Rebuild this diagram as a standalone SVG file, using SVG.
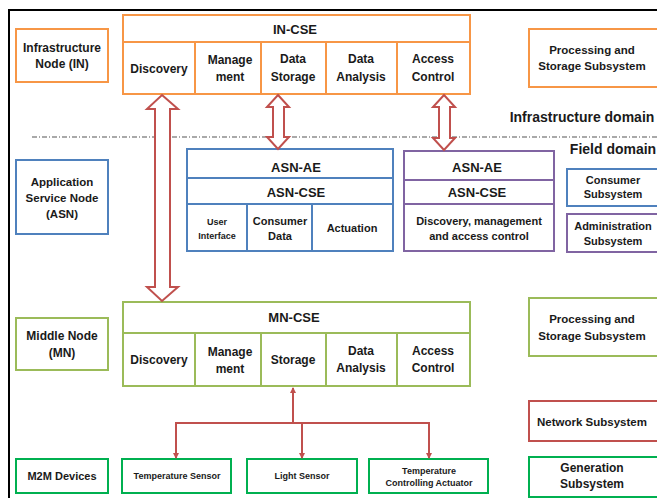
<svg xmlns="http://www.w3.org/2000/svg" width="657" height="498" viewBox="0 0 657 498">
<defs>
<style>
text{font-family:"Liberation Sans",Arial,sans-serif;font-weight:bold;fill:#1a1a1a;text-anchor:middle}
.box{fill:#fff;stroke-width:2}
.or{stroke:#F79646}
.bl{stroke:#4F81BD}
.pu{stroke:#8064A2}
.lg{stroke:#9BBB59}
.rd{stroke:#C0504D}
.gr{stroke:#00B050}
.ln{fill:none;stroke-width:2}
.t12{font-size:12px}
.t11{font-size:11px}
.t115{font-size:11.5px}
.t13{font-size:13px}
.t9{font-size:9px}
.t14{font-size:14px}
.big{fill:#fff;stroke:#C0504D;stroke-width:2;stroke-linejoin:miter}
.con{fill:none;stroke:#C0504D;stroke-width:2}
</style>
<marker id="ah" viewBox="0 0 6 6" refX="5" refY="3" markerWidth="6" markerHeight="6" markerUnits="userSpaceOnUse" orient="auto">
<path d="M0,0 L6,3 L0,6 Z" fill="#C0504D"/>
</marker>
</defs>
<rect width="657" height="498" fill="#fff"/>
<path d="M9,498 V10 H657" fill="none" stroke="#000" stroke-width="2"/>
<line x1="32" y1="137" x2="657" y2="137" stroke="#555" stroke-width="1.2" stroke-dasharray="5 2 1 2"/>
<text class="t14" x="582" y="122">Infrastructure domain</text>
<text class="t14" x="613" y="154">Field domain</text>

<g id="infrastructure-node">
<rect class="box or" x="16" y="29" width="92" height="53"/>
<text class="t12" x="62" y="52">Infrastructure</text>
<text class="t12" x="62" y="68">Node (IN)</text>
</g>

<g id="in-cse">
<rect class="box or" x="123" y="15" width="347" height="79"/>
<line class="ln or" x1="123" y1="42" x2="470" y2="42"/>
<line class="ln or" x1="195" y1="42" x2="195" y2="94"/>
<line class="ln or" x1="261" y1="42" x2="261" y2="94"/>
<line class="ln or" x1="326" y1="42" x2="326" y2="94"/>
<line class="ln or" x1="397" y1="42" x2="397" y2="94"/>
<text class="t13" x="295" y="34">IN-CSE</text>
<text class="t12" x="159" y="73">Discovery</text>
<text class="t12" x="230" y="64">Manage</text>
<text class="t12" x="230" y="81">ment</text>
<text class="t12" x="293" y="63">Data</text>
<text class="t12" x="293" y="81">Storage</text>
<text class="t12" x="361" y="63">Data</text>
<text class="t12" x="361" y="81">Analysis</text>
<text class="t12" x="433" y="63">Access</text>
<text class="t12" x="433" y="81">Control</text>
</g>

<g id="processing-storage-in">
<rect class="box or" x="529" y="29" width="130" height="58"/>
<text class="t115" x="592" y="54">Processing and</text>
<text class="t115" x="592" y="70">Storage Subsystem</text>
</g>

<g id="asn-node">
<rect class="box bl" x="16" y="160" width="92" height="74"/>
<text class="t115" x="62" y="186">Application</text>
<text class="t115" x="62" y="202">Service Node</text>
<text class="t115" x="62" y="218">(ASN)</text>
</g>

<g id="asn-blue">
<rect class="box bl" x="187" y="149" width="206" height="102"/>
<line class="ln bl" x1="187" y1="178" x2="393" y2="178"/>
<line class="ln bl" x1="187" y1="204" x2="393" y2="204"/>
<line class="ln bl" x1="247" y1="204" x2="247" y2="251"/>
<line class="ln bl" x1="312" y1="204" x2="312" y2="251"/>
<text class="t13" x="296" y="172">ASN-AE</text>
<text class="t13" x="296" y="197">ASN-CSE</text>
<text class="t9" x="217" y="225">User</text>
<text class="t9" x="217" y="239">Interface</text>
<text class="t11" x="280" y="225">Consumer</text>
<text class="t11" x="280" y="240">Data</text>
<text class="t11" x="352" y="232">Actuation</text>
</g>

<g id="asn-purple">
<rect class="box pu" x="404" y="151" width="150" height="100"/>
<line class="ln pu" x1="404" y1="180" x2="554" y2="180"/>
<line class="ln pu" x1="404" y1="204" x2="554" y2="204"/>
<text class="t13" x="477" y="172">ASN-AE</text>
<text class="t13" x="477" y="197">ASN-CSE</text>
<text class="t11" x="479" y="225">Discovery, management</text>
<text class="t11" x="479" y="240">and access control</text>
</g>

<g id="consumer-subsystem">
<rect class="box bl" x="567" y="169" width="92" height="37"/>
<text class="t11" x="613" y="184">Consumer</text>
<text class="t11" x="613" y="198">Subsystem</text>
</g>

<g id="administration-subsystem">
<rect class="box pu" x="567" y="214" width="92" height="38"/>
<text class="t11" x="613" y="230">Administration</text>
<text class="t11" x="613" y="245">Subsystem</text>
</g>

<g id="middle-node">
<rect class="box lg" x="16" y="318" width="92" height="52"/>
<text class="t12" x="62" y="340">Middle Node</text>
<text class="t12" x="62" y="357">(MN)</text>
</g>

<g id="mn-cse">
<rect class="box lg" x="123" y="302" width="347" height="84"/>
<line class="ln lg" x1="123" y1="333" x2="470" y2="333"/>
<line class="ln lg" x1="195" y1="333" x2="195" y2="386"/>
<line class="ln lg" x1="261" y1="333" x2="261" y2="386"/>
<line class="ln lg" x1="326" y1="333" x2="326" y2="386"/>
<line class="ln lg" x1="397" y1="333" x2="397" y2="386"/>
<text class="t13" x="294" y="322">MN-CSE</text>
<text class="t12" x="159" y="364">Discovery</text>
<text class="t12" x="230" y="356">Manage</text>
<text class="t12" x="230" y="373">ment</text>
<text class="t12" x="293" y="364">Storage</text>
<text class="t12" x="361" y="355">Data</text>
<text class="t12" x="361" y="372">Analysis</text>
<text class="t12" x="433" y="355">Access</text>
<text class="t12" x="433" y="372">Control</text>
</g>

<g id="processing-storage-mn">
<rect class="box lg" x="529" y="298" width="130" height="58"/>
<text class="t115" x="592" y="323">Processing and</text>
<text class="t115" x="592" y="340">Storage Subsystem</text>
</g>

<g id="network-subsystem">
<rect class="box rd" x="529" y="401" width="130" height="40"/>
<text class="t115" x="592" y="426">Network Subsystem</text>
</g>

<g id="generation-subsystem">
<rect class="box gr" x="529" y="457" width="130" height="40"/>
<text class="t12" x="592" y="472">Generation</text>
<text class="t12" x="592" y="488">Subsystem</text>
</g>

<g id="m2m-devices">
<rect class="box gr" x="16" y="459" width="92" height="34"/>
<text class="t11" x="62" y="480">M2M Devices</text>
</g>

<g id="temperature-sensor">
<rect class="box gr" x="122" y="459" width="109" height="34"/>
<text class="t9" x="177" y="479">Temperature Sensor</text>
</g>

<g id="light-sensor">
<rect class="box gr" x="247" y="459" width="110" height="34"/>
<text class="t9" x="302" y="479">Light Sensor</text>
</g>

<g id="temperature-actuator">
<rect class="box gr" x="369" y="459" width="119" height="34"/>
<text class="t9" x="429" y="474">Temperature</text>
<text class="t9" x="429" y="486">Controlling Actuator</text>
</g>

<g id="connectors">
<path class="big" d="M162,95 L178,109 L170,109 L170,287 L178,287 L162,301 L147,287 L155,287 L155,109 L147,109 Z"/>
<path class="big" d="M278,95 L289,107 L284,107 L284,137 L289,137 L278,149 L267,137 L273,137 L273,107 L267,107 Z"/>
<path class="big" d="M444,95 L455,107 L450,107 L450,138 L455,138 L444,150 L433,138 L439,138 L439,107 L433,107 Z"/>
<line class="con" x1="293" y1="423" x2="293" y2="388" stroke-width="3" marker-end="url(#ah)"/>
<line class="con" x1="293" y1="423" x2="302" y2="423" stroke-width="3"/>
<path class="con" d="M176,458 V423 H429 V458" marker-end="url(#ah)"/>
<line class="con" x1="176" y1="423" x2="176" y2="458" marker-end="url(#ah)"/>
<line class="con" x1="302" y1="423" x2="302" y2="458" marker-end="url(#ah)"/>
</g>
</svg>
